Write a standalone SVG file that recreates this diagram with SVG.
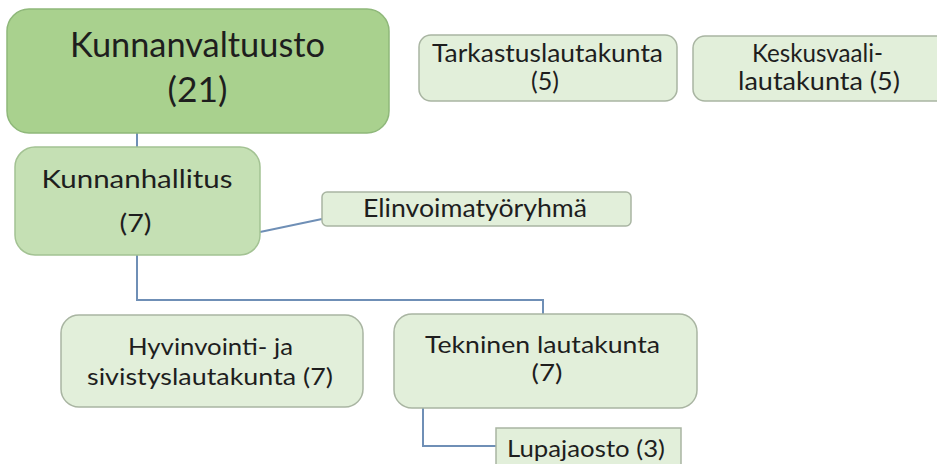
<svg xmlns="http://www.w3.org/2000/svg" width="937" height="464" viewBox="0 0 937 464">
<style>
  text { font-family: Lato, "Liberation Sans", Arial, sans-serif; fill: #1e1e1e; text-anchor: middle; }
  .big { font-size: 35px; }
  .mid { font-size: 25px; }
  .sm { font-size: 24px; }
  .xs { font-size: 23px; }
  .lvl1 { fill: #a9d18e; stroke: #8fb87a; stroke-width: 1.5; }
  .lvl2 { fill: #c5e0b4; stroke: #a3c293; stroke-width: 1.5; }
  .lvl3 { fill: #e2efda; stroke: #a9b5a2; stroke-width: 1.5; }
  .conn { fill: none; stroke: #6f8fb6; stroke-width: 2; }
</style>
<rect width="937" height="464" fill="#ffffff"/>
<g id="connectors">
  <path class="conn" d="M137 133 V147"/>
  <path class="conn" d="M260 232 L322 219"/>
  <path class="conn" d="M137 255 V300 H543 V314"/>
  <path class="conn" d="M423 408 V446 H496"/>
</g>
<g id="kunnanvaltuusto">
  <rect class="lvl1" x="7" y="9" width="382" height="124" rx="22"/>
  <text class="big" x="197.5" y="57" textLength="255" lengthAdjust="spacingAndGlyphs">Kunnanvaltuusto</text>
  <text class="big" x="197.5" y="102" textLength="60" lengthAdjust="spacingAndGlyphs">(21)</text>
</g>
<g id="kunnanhallitus">
  <rect class="lvl2" x="15" y="147" width="245" height="108" rx="20"/>
  <text class="mid" x="137" y="187.5" textLength="191" lengthAdjust="spacingAndGlyphs">Kunnanhallitus</text>
  <text class="mid" x="135.5" y="232" textLength="32" lengthAdjust="spacingAndGlyphs">(7)</text>
</g>
<g id="elinvoimatyoryhma">
  <rect class="lvl3" x="322" y="192" width="309" height="34" rx="5"/>
  <text class="mid" x="475" y="217" textLength="224" lengthAdjust="spacingAndGlyphs">Elinvoimatyöryhmä</text>
</g>
<g id="tarkastuslautakunta">
  <rect class="lvl3" x="419" y="35" width="258" height="66" rx="12"/>
  <text class="mid" x="547.5" y="62" textLength="231" lengthAdjust="spacingAndGlyphs">Tarkastuslautakunta</text>
  <text class="mid" x="545" y="90" textLength="28" lengthAdjust="spacingAndGlyphs">(5)</text>
</g>
<g id="keskusvaalilautakunta">
  <rect class="lvl3" x="693" y="36" width="260" height="65" rx="12"/>
  <text class="mid" x="817.5" y="62" textLength="131" lengthAdjust="spacingAndGlyphs">Keskusvaali-</text>
  <text class="mid" x="819" y="90" textLength="162" lengthAdjust="spacingAndGlyphs">lautakunta (5)</text>
</g>
<g id="hyvinvointi">
  <rect class="lvl3" x="61" y="315" width="302" height="92" rx="18"/>
  <text class="sm" x="210.5" y="355" textLength="165" lengthAdjust="spacingAndGlyphs">Hyvinvointi- ja</text>
  <text class="sm" x="210" y="385" textLength="246" lengthAdjust="spacingAndGlyphs">sivistyslautakunta (7)</text>
</g>
<g id="tekninen">
  <rect class="lvl3" x="394" y="314" width="303" height="94" rx="18"/>
  <text class="sm" x="542.5" y="353" textLength="235" lengthAdjust="spacingAndGlyphs">Tekninen lautakunta</text>
  <text class="sm" x="547" y="381" textLength="31" lengthAdjust="spacingAndGlyphs">(7)</text>
</g>
<g id="lupajaosto">
  <rect class="lvl3" x="496" y="428" width="185" height="44"/>
  <text class="xs" x="586" y="457" textLength="158" lengthAdjust="spacingAndGlyphs">Lupajaosto (3)</text>
</g>
</svg>
